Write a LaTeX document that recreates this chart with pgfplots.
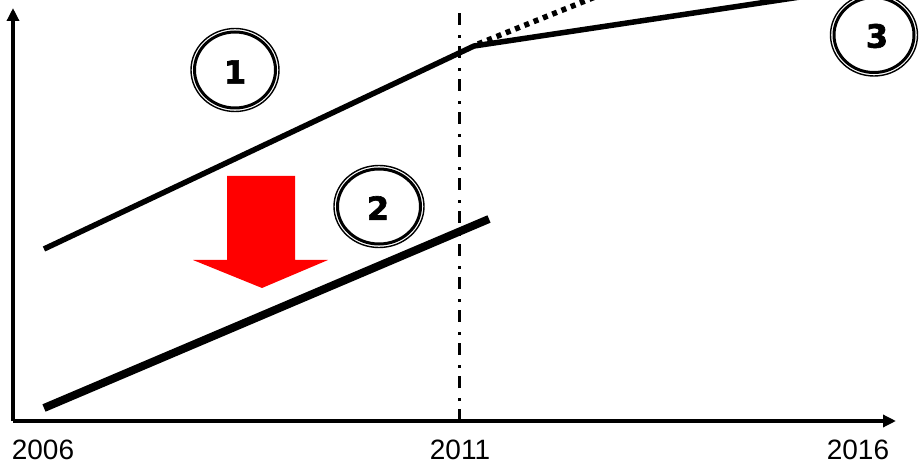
\documentclass[border=0pt]{standalone}
\usepackage{pgfplots}
\pgfplotsset{compat=1.18}
\usetikzlibrary{arrows.meta}
\usepackage{fontspec}
\setmainfont{Liberation Sans}
\newfontfamily\condfont{Liberation Sans}
\newfontfamily\numfont{DejaVu Sans Bold}[FakeBold=2]
\begin{document}
\begin{tikzpicture}
\begin{axis}[
  scale only axis,
  width=883pt, height=413pt,
  xmin=13, xmax=896, ymin=45, ymax=458,
  axis lines=left,
  axis line style={line width=3.3pt},
  every outer x axis line/.append style={-{Triangle[length=13pt,width=12pt]}},
  every outer y axis line/.append style={-{Triangle[length=13pt,width=12pt]}},
  xtick={43,460,858},
  xticklabels={2006,2011,2016},
  ytick=\empty,
  major tick length=0pt,
  xticklabel style={font=\condfont\fontsize{28}{28}\selectfont, anchor=north, inner sep=0pt, yshift=-19pt},
  clip=false,
]
% red arrow
\addplot[fill=red, draw=none] coordinates {(227,290) (295,290) (295,206) (328,206) (262,178) (193,206) (227,206)} -- cycle;
% vertical dash-dot line
\addplot[black, line width=3pt, dash pattern=on 12pt off 8pt on 3pt off 10pt] coordinates {(459,45) (459,456)};
% line 1
\addplot[black, line width=5.5pt, line join=round] coordinates {(44,217) (474,420) (840,475)};
% dotted
\addplot[black, line width=5.5pt, dash pattern=on 5pt off 5pt] coordinates {(478,422) (600,471)};
% line 2
\addplot[black, line width=8pt] coordinates {(44,58) (489,247)};
% circles
\draw[line width=1.4pt] (axis cs:235,396) ellipse [x radius=44pt, y radius=41.5pt];
\draw[line width=3pt] (axis cs:235,396) ellipse [x radius=40.5pt, y radius=38pt];
\node[font=\numfont\fontsize{32}{32}\selectfont] at (axis cs:235,394) {1};
\draw[line width=1.4pt] (axis cs:379,259.5) ellipse [x radius=45pt, y radius=41pt];
\draw[line width=3pt] (axis cs:379,259.5) ellipse [x radius=41.5pt, y radius=37.5pt];
\node[font=\numfont\fontsize{32}{32}\selectfont] at (axis cs:378,258) {2};
\draw[line width=1.4pt] (axis cs:874,431) ellipse [x radius=43.5pt, y radius=41pt];
\draw[line width=3pt] (axis cs:874,431) ellipse [x radius=40pt, y radius=37.5pt];
\node[font=\numfont\fontsize{32}{32}\selectfont] at (axis cs:877,430) {3};
\coordinate (bbl) at (axis cs:0,0);
\coordinate (btr) at (axis cs:919,466);
\end{axis}
\pgfresetboundingbox
\path (bbl) rectangle (btr);
\end{tikzpicture}
\end{document}
